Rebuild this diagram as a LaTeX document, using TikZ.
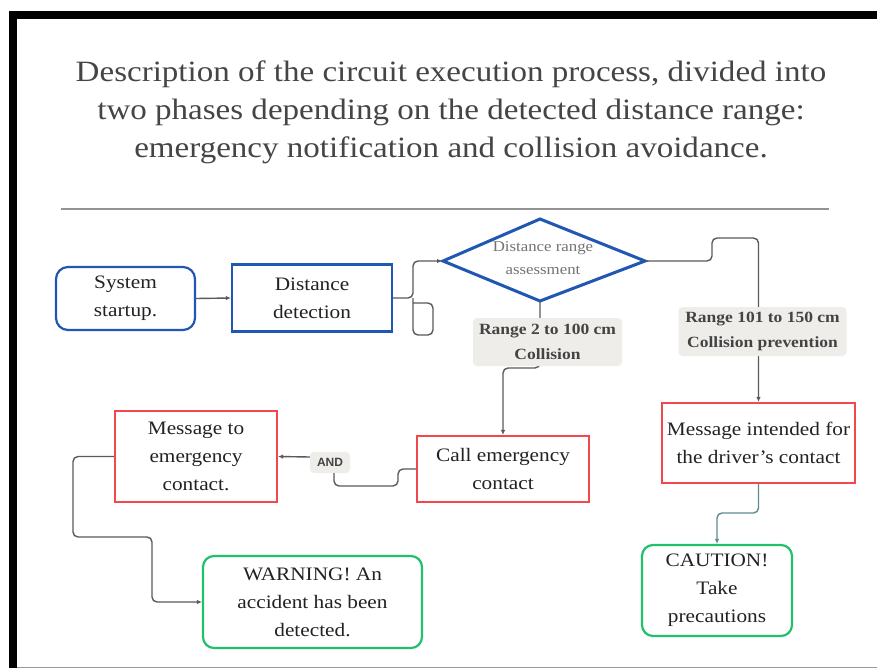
\documentclass[tikz,border=0pt]{standalone}
\usepackage{fontspec}
\setmainfont[FakeStretch=1.12]{Liberation Serif}
\setsansfont{Liberation Sans}
\renewcommand{\familydefault}{\rmdefault}
\usetikzlibrary{arrows.meta}
\definecolor{bblue}{HTML}{1F57B3}
\definecolor{rred}{HTML}{F2484B}
\definecolor{ggreen}{HTML}{21C06A}
\definecolor{ttxt}{HTML}{222222}
\definecolor{ttitle}{HTML}{454545}
\definecolor{lgrey}{HTML}{EEEDEA}
\definecolor{cgrey}{HTML}{5A5A5A}
\definecolor{tealc}{HTML}{5E8C8E}
\tikzset{
  boxtext/.style={align=center, text=ttxt, font=\rmfamily\fontsize{19}{28}\selectfont, inner sep=0pt, fill=white},
  bluebox/.style={boxtext, draw=bblue, line width=2.2pt},
  redbox/.style={boxtext, draw=rred, line width=2.2pt},
  greenbox/.style={boxtext, draw=ggreen, line width=2.2pt, rounded corners=11pt},
  conn/.style={draw=cgrey, line width=1.4pt, rounded corners=5pt},
  arr/.style={-{Latex[length=5pt,width=4.5pt]}},
  lbl/.style={fill=lgrey, rounded corners=4pt, align=center, text=ttxt!85!white, font=\rmfamily\bfseries\fontsize{15.6}{25}\selectfont, inner sep=0pt},
}
\begin{document}
\begin{tikzpicture}[x=1pt,y=-1pt]
\useasboundingbox (0,0) rectangle (877,668);
\fill[white] (0,0) rectangle (877,668);
% frame
\fill[black] (9.3,11.3) rectangle (877,19.3);
\fill[black] (9.3,11.3) rectangle (17.3,668);
\draw[gray!80, line width=1pt] (17.3,667) -- (877,667);
% title
\node[align=center, text=ttitle, font=\rmfamily\fontsize{29.5}{38}\selectfont, inner sep=0pt] (title) at (451,112)
  {Description of the circuit execution process, divided into\\two phases depending on the detected distance range:\\emergency notification and collision avoidance.};
\draw[gray!85, line width=2.5pt] (61,209) -- (829,209);
% nodes
\node[bluebox, rounded corners=12pt, minimum width=139pt, minimum height=63pt] (start) at (125.5,298.5) {System\\startup.};
\node[bluebox, minimum width=160pt, minimum height=67pt] (det) at (312,298) {Distance\\detection};
\coordinate (diaW) at (443,261);
\coordinate (diaN) at (540,219);
\coordinate (diaE) at (645,261);
\coordinate (diaS) at (540,301);
\fill[white] (diaN) -- (diaE) -- (diaS) -- (diaW) -- cycle;
\node[align=center, text=gray!90!black, font=\rmfamily\fontsize{15}{23}\selectfont, inner sep=0pt] (dia) at (543,258) {Distance range\\assessment};
\draw[bblue, line width=3pt, line join=miter] (diaN) -- (diaE) -- (diaS) -- (diaW) -- cycle;
\node[redbox, minimum width=193pt, minimum height=80pt] (msgd) at (758.5,443) {Message intended for\\the driver's contact};
\node[greenbox, minimum width=150pt, minimum height=91pt] (caution) at (717,590.5) {CAUTION!\\Take\\precautions};
\node[redbox, minimum width=172pt, minimum height=66pt] (call) at (503,469) {Call emergency\\contact};
\node[redbox, minimum width=162pt, minimum height=91pt] (msge) at (196,456.5) {Message to\\emergency\\contact.};
\node[greenbox, minimum width=219pt, minimum height=92pt] (warn) at (312.5,602) {WARNING! An\\accident has been\\detected.};
% connectors
\draw[conn, arr] (start.east) -- (det.west);
\draw[conn, arr] (det.east) -- (413,298) |- ([xshift=-1pt]diaW);
\draw[conn] (413,298) -- (413,335) -- (433,335) -- (433,303) -- (413,303);
\draw[conn, arr] (diaS) -- (540,368) -- (503,368) -- (call.north);
\draw[conn, arr] (diaE) -- (712,261) -- (712,238) -- (758.5,238) -- (msgd.north);
\draw[conn, draw=tealc, arr] (msgd.south) -- (758.5,513) -- (717,513) -- (caution.north);
\node[lbl, minimum width=149pt, minimum height=48pt] (lab1) at (547.5,342) {Range 2 to 100 cm\\Collision};
\node[lbl, minimum width=168pt, minimum height=49pt] (lab2) at (762.5,331.5) {Range 101 to 150 cm\\Collision prevention};
\node[fill=lgrey, rounded corners=4pt, text=ttxt!85!white, font=\sffamily\bfseries\fontsize{12}{14}\selectfont, inner sep=0pt,
  minimum width=40pt, minimum height=21pt] (and) at (330,462.5) {AND};
\draw[conn] (call.west) -- (398,469) -- (398,486) -- (334,486) -- (334,473);
\draw[conn, arr] ([yshift=5.5pt]and.west) -- (msge.east);
\draw[conn, arr] (msge.west) -- (73,456.5) -- (73,537) -- (152,537) -- (152,602) -- (warn.west);
\end{tikzpicture}
\end{document}
